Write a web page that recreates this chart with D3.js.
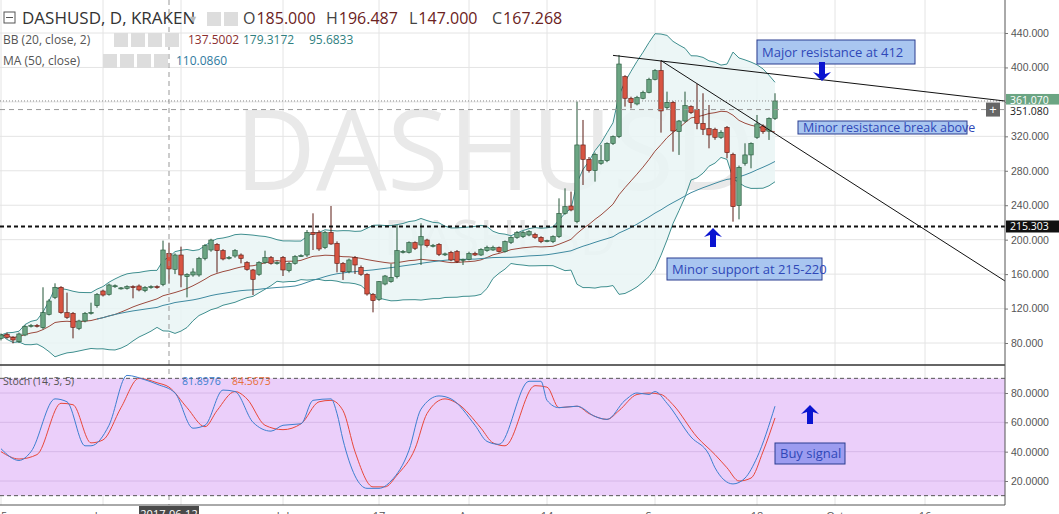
<!DOCTYPE html>
<html><head><meta charset="utf-8">
<script src="https://cdn.jsdelivr.net/npm/d3@7"></script>
<style>body{margin:0;background:#fff;overflow:hidden}svg{display:block;font-family:"Open Sans","DejaVu Sans",sans-serif}</style>
</head><body><div id="chart"></div>
<script>
// daily candles [open, high, low, close], May 15 .. Sep 21 2017
const candles = [
 [85.4,91,83,89.3],[90,92,85,86.6],[86.6,88,79.6,83.5],[81.5,92,80,90.5],[89.3,101,88,99],
 [100,102,98,100.5],[100.5,102,98,100],[97.8,144.7,96,115.2],[113.3,131,112,128.8],[133,149.3,131,144.7],
 [144.7,146,114,115.2],[115.2,138.5,108,109.8],[114.5,116,85.4,98.2],[97,107,95,105.6],[105.6,116,104,114.5],
 [114.8,126.8,113,115.6],[123.4,138,121,136.5],[140.4,142,134,135.7],[136.5,149,135,147.4],[146.2,148,144,146.5],
 [143.5,145,142,144],[143.5,147,142,145.4],[145.4,147,131.9,145],[146.2,148,140,141.6],[140.8,146,139,144.7],
 [145,147,143,145.4],[145.4,147,143,145],[148.1,198.9,146,188],[184.1,196.5,149.3,166],[165.6,184,160,182.2],
 [182.2,191.9,144.7,159],[157,161,133,159.8],[159,166.7,157,162.5],[159,180,157,178.3],[178.3,195,176,193],
 [188,201,186,199.6],[194.6,196,161.7,187.2],[187.2,189,176,177.6],[178.6,181,177,179.5],[181,189,179,187.2],
 [182.2,184,172.5,178.3],[173.3,175,164,165.6],[164.8,166,135.7,153.9],[159.8,175,158,173.7],[173.3,187.2,172,179.1],
 [179.1,181,171,172.5],[172.5,175,171,173.3],[179.5,181,157.8,164.8],[164,174,162,172.5],[172.5,182,171,180.3],
 [181,183,180,181.4],[182.2,211.2,180,208.5],[208.5,230.6,188,206.2],[208.5,211,187,189.2],[190.7,210,189,208.5],
 [208.5,239.1,194,195],[195.8,198,162,172.5],[172.5,174,153.2,162.8],[162.8,178,161,176.4],[179.1,181,160.1,170.6],
 [167.9,170,158,159.8],[159.8,161,135,136.9],[136.5,138,115.6,129.2],[130.7,152,129,151.2],[148.5,159,147,157.8],
 [151.2,171.8,150,156.3],[157,217,155,187.2],[186.1,188,184,186.5],[185.3,198,184,196.5],[196.5,198,188,190],
 [193.8,219,170.6,203.5],[199.6,201,191,193],[193,195,191,193.5],[194.6,196,181,183],[183,185,181,183.5],
 [185.3,187,175,176.4],[186.1,188,173,174.5],[176.4,178,170.6,177.2],[177.2,186,176,184.1],[184.1,186,181,182.2],
 [182.2,190,181,188.8],[187.2,193,186,191.1],[188,193,187,191.1],[190.7,192,185,186.1],[186.1,199,185,197.7],
 [196.9,204,195,202.7],[202.7,210,201,208.1],[203.5,210,202,208.1],[205.4,211,204,209.3],[206,208,201,202.7],
 [202.7,204,196,197.7],[198.5,200,197,198.9],[197.7,205,196,203.5],[203.5,248,202,230.6],[230.6,259.6,229,238.3],
 [239.1,255.8,233,234.5],[220.9,360.3,219,310],[310,339,263.5,293.3],[293.3,296,278,280.2],[280.2,301,267.4,299.1],
 [288.7,310,287,291.8],[291.8,313,290,311.9],[311.9,321,310,319.6],[319.6,414.5,318,404],[389.3,391,354.5,364.2],
 [364.2,366,352.5,359.1],[357.6,367,356,365.3],[364.2,373,363,371.1],[371.1,388,370,386.2],[386.2,398,385,396.3],
 [396.3,407.9,324.3,349.5],[353.3,371.9,351,359.5],[359.5,361,302.2,326.2],[325.4,339,298.4,337.8],[337.8,371.9,336,355.6],
 [354.5,356,346,347.5],[351.4,380.8,328.2,335.1],[335.1,370,321.6,328.2],[328.9,356.4,306.1,321.6],[328.2,330,316,318.9],
 [318.9,327,317,324.7],[330.5,332,294.5,301.1],[299.1,301,220.9,238.3],[239.5,286,223.6,284],[288.7,311.9,286,298.4],
 [298.4,313,282.9,311.9],[318.9,344.8,317,334.4],[332,334,323,325.4],[326,342,315.8,340.9],[340.9,370,339,361.07]
];
// stochastic lines, [candle index, value]
const stochK = [[0,42],[3,34],[5,40],[9,76],[11,74],[14,44],[15,44],[18,58],[21,92],[24,89],[26,86],[29,80],[32,56],[34,58],[37,82],[39,81],[42,60],[45,54],[47,58],[50,59],[52,75],[55,76],[56,66],[57,48],[61,15],[63,15],[65,20],[68,41],[70,69],[73,78],[75,76],[79,58],[81,47],[83,45],[88,88],[90,88],[91,75],[93,70],[96,71],[99,64],[101,62],[104,75],[106,80],[108,79],[109,81],[111,73],[115,50],[118,38],[119,29],[122,18],[124,22],[126,36],[129,71]];
const stochD = [[0,40],[3,35],[6,38],[10,73],[12,72],[15,46],[17,48],[20,70],[23,90],[26,87],[28,84],[31,70],[34,57],[36,68],[39,81],[41,76],[44,58],[47,55],[50,59],[53,74],[55,75],[57,68],[59,40],[62,16],[64,16],[66,24],[69,42],[71,66],[74,76],[76,73],[80,56],[82,46],[84,44],[89,85],[91,84],[93,70],[96,71],[98,66],[101,62],[103,68],[106,79],[108,80],[110,79],[112,72],[116,50],[119,38],[121,29],[123,20],[125,22],[127,40],[129,63]];
const priceTicks = [80,120,160,200,240,280,320,360,400,440];
const stochTicks = [20,40,60,80];
const timeTicks = [["2017-05-15","15"],["2017-06-01","Jun"],["2017-06-14",""],["2017-07-01","Jul"],["2017-07-17","17"],["2017-08-01","Aug"],["2017-08-14","14"],["2017-09-01","Sep"],["2017-09-18","18"],["2017-10-01","Oct"],["2017-10-16","16"]];
const ohlc = [["O", "185.000"], ["H", "196.487"], ["L", "147.000"], ["C", "167.268"]];
const startDate = new Date(2017,4,15);
const day = 864e5;

const W = 1059, H = 514, axisX = 1005;
const svg = d3.select("#chart").append("svg").attr("width", W).attr("height", H);

const x = d3.scaleTime().domain([startDate, new Date(2017,8,21)]).range([1, 775]);
const xi = i => x(new Date(startDate.getTime() + i*day));
const y = d3.scaleLinear().domain([80, 440]).range([343, 33]);
const ys = d3.scaleLinear().domain([20, 80]).range([481, 393]);
const parse = d3.timeParse("%Y-%m-%d");

// grid
const grid = svg.append("g").attr("stroke", "#e4e4e4");
grid.selectAll(".v").data(timeTicks).enter().append("line")
  .attr("x1", d => x(parse(d[0]))).attr("x2", d => x(parse(d[0])))
  .attr("y1", 0).attr("y2", 505);
grid.selectAll(".h").data(priceTicks).enter().append("line")
  .attr("x1", 0).attr("x2", axisX).attr("y1", d => y(d)).attr("y2", d => y(d));

// watermark
svg.append("text").attr("x", 495).attr("y", 190).attr("text-anchor", "middle")
  .attr("font-size", 112).attr("fill", "#e9e9e9").text("DASHUSD");
svg.append("text").attr("x", 500).attr("y", 255).attr("text-anchor", "middle")
  .attr("font-size", 50).attr("fill", "#e6e6e6").text("DASHUSD");

// indicators
const closes = candles.map(c => c[3]);
const bb = closes.map((c, i) => {
  const w = closes.slice(Math.max(0, i-19), i+1);
  const m = d3.mean(w), s = d3.deviation(w) || 0;
  return {i, m, u: m + 2*s, l: m - 2*s};
});
const ma50 = closes.map((c, i) => ({i, v: d3.mean(closes.slice(Math.max(0, i-49), i+1))})).slice(16);

svg.append("path").datum(bb).attr("fill", "#e9f5f5").attr("opacity", 0.85)
  .attr("d", d3.area().x(d => xi(d.i)).y0(d => y(d.l)).y1(d => y(d.u)));
svg.append("path").datum(bb).attr("fill", "none").attr("stroke", "#3f8f8f")
  .attr("d", d3.line().x(d => xi(d.i)).y(d => y(d.u)));
svg.append("path").datum(bb).attr("fill", "none").attr("stroke", "#3f8f8f")
  .attr("d", d3.line().x(d => xi(d.i)).y(d => y(d.l)));
svg.append("path").datum(bb).attr("fill", "none").attr("stroke", "#9b4a3e")
  .attr("d", d3.line().x(d => xi(d.i)).y(d => y(d.m)));
svg.append("path").datum(ma50).attr("fill", "none").attr("stroke", "#3f8aa0")
  .attr("d", d3.line().x(d => xi(d.i)).y(d => y(d.v)));

// candles
const cg = svg.append("g").selectAll("g").data(candles).enter().append("g");
cg.append("line").attr("x1", (d, i) => xi(i)).attr("x2", (d, i) => xi(i))
  .attr("y1", d => y(d[1])).attr("y2", d => y(d[2]))
  .attr("stroke", d => d[3] >= d[0] ? "#225437" : "#5b1a13");
cg.append("rect").attr("x", (d, i) => xi(i) - 2.2).attr("width", 4.4)
  .attr("y", d => y(Math.max(d[0], d[3])))
  .attr("height", d => Math.max(1, Math.abs(y(d[0]) - y(d[3]))))
  .attr("fill", d => d[3] >= d[0] ? "#6ba583" : "#d75442")
  .attr("stroke", d => d[3] >= d[0] ? "#225437" : "#5b1a13").attr("stroke-width", 0.6);

// level lines
svg.append("line").attr("x1", 0).attr("x2", axisX).attr("y1", y(215.303)).attr("y2", y(215.303))
  .attr("stroke", "#111").attr("stroke-width", 2).attr("stroke-dasharray", "4,3");
svg.append("line").attr("x1", 0).attr("x2", axisX).attr("y1", y(361.07)).attr("y2", y(361.07))
  .attr("stroke", "#888").attr("stroke-dasharray", "1,2");
svg.append("line").attr("x1", 0).attr("x2", axisX).attr("y1", y(351.08)).attr("y2", y(351.08))
  .attr("stroke", "#999").attr("stroke-dasharray", "5,4");
// crosshair
svg.append("line").attr("x1", xi(28)).attr("x2", xi(28)).attr("y1", 0).attr("y2", 505)
  .attr("stroke", "#999").attr("stroke-dasharray", "5,4");

// trend lines
svg.append("line").attr("x1", xi(102)).attr("y1", y(414)).attr("x2", axisX).attr("y2", y(361))
  .attr("stroke", "#111");
svg.append("line").attr("x1", xi(110)).attr("y1", y(408)).attr("x2", axisX).attr("y2", y(152))
  .attr("stroke", "#111");

// annotations
function note(x0, y0, w, h, txt, fill, size) {
  svg.append("rect").attr("x", x0).attr("y", y0).attr("width", w).attr("height", h)
    .attr("fill", fill).attr("stroke", "#2a3c8f");
  svg.append("text").attr("x", x0 + 5).attr("y", y0 + h/2 + 4.5).attr("font-size", size)
    .attr("fill", "#2f48b8").text(txt);
}
function arrow(cx, tip, dir) {
  const s = dir;
  svg.append("path").attr("fill", "#0a14d0")
    .attr("d", `M${cx},${tip} L${cx-9},${tip + s*9} L${cx-3},${tip + s*7} L${cx-3},${tip + s*19} L${cx+3},${tip + s*19} L${cx+3},${tip + s*7} L${cx+9},${tip + s*9} Z`);
}
note(757, 40, 158, 24, "Major resistance at 412", "#a9c6f0", 13);
arrow(822, 81, -1);
note(798, 121, 169, 13, "Minor resistance break above", "#a9c6f0", 12.5);
note(667, 258, 155, 22, "Minor support at 215-220", "#a9c6f0", 13);
arrow(713, 228, 1);

// stoch pane
svg.append("line").attr("x1", 0).attr("x2", axisX).attr("y1", 365).attr("y2", 365).attr("stroke", "#333").attr("stroke-width", 1.5);
svg.append("rect").attr("x", 0).attr("y", ys(90)).attr("width", axisX).attr("height", ys(10) - ys(90)).attr("fill", "#ebcffa");
svg.append("g").attr("stroke", "#d6b8e8").selectAll("line").data(stochTicks).enter().append("line")
  .attr("x1", 0).attr("x2", axisX).attr("y1", d => ys(d)).attr("y2", d => ys(d));
[90, 10].forEach(v => svg.append("line").attr("x1", 0).attr("x2", axisX).attr("y1", ys(v)).attr("y2", ys(v))
  .attr("stroke", "#555").attr("stroke-dasharray", "4,3"));
const sl = d3.line().x(d => xi(d[0])).y(d => ys(d[1])).curve(d3.curveMonotoneX);
svg.append("path").datum(stochD).attr("fill", "none").attr("stroke", "#e8483a").attr("d", sl);
svg.append("path").datum(stochK).attr("fill", "none").attr("stroke", "#3d7fd0").attr("d", sl);
note(775, 443, 70, 21, "Buy signal", "#9c9cf0", 13);
arrow(810, 405, 1);
svg.append("text").attr("x", 3).attr("y", 385).attr("font-size", 10.5).attr("fill", "#555").text("Stoch (14, 3, 5)");
svg.append("text").attr("x", 182).attr("y", 385).attr("font-size", 10.5).attr("fill", "#3d7fd0").text("81.8976");
svg.append("text").attr("x", 232).attr("y", 385).attr("font-size", 10.5).attr("fill", "#e8703a").text("84.5673");

// right axes
svg.append("line").attr("x1", axisX).attr("x2", axisX).attr("y1", 0).attr("y2", 505).attr("stroke", "#555");
svg.append("line").attr("x1", 0).attr("x2", axisX).attr("y1", 505).attr("y2", 505).attr("stroke", "#555");
const ay = svg.append("g").attr("transform", `translate(${axisX},0)`)
  .call(d3.axisRight(y).tickValues(priceTicks).tickSize(3).tickFormat(d3.format(".3f")));
const as = svg.append("g").attr("transform", `translate(${axisX},0)`)
  .call(d3.axisRight(ys).tickValues(stochTicks).tickSize(3).tickFormat(d3.format(".4f")));
[ay, as].forEach(a => { a.select(".domain").remove(); a.selectAll("text").attr("font-size", 10.5).attr("fill", "#555"); a.selectAll("line").attr("stroke", "#777"); });

// price labels on axis
function tag(v, bg, fg, txt, dy) {
  svg.append("rect").attr("x", axisX + 1).attr("y", y(v) - 6 + dy).attr("width", 53).attr("height", 12).attr("fill", bg);
  svg.append("text").attr("x", axisX + 5).attr("y", y(v) + 4 + dy).attr("font-size", 10.5).attr("fill", fg).text(txt);
}
tag(361.07, "#6ba583", "#fff", "361.070", -1);
tag(351.08, "#fff", "#222", "351.080", 1);
tag(215.303, "#111", "#fff", "215.303", 0);
svg.append("rect").attr("x", 986).attr("y", y(351.08) - 7).attr("width", 14).attr("height", 14).attr("fill", "#666");
svg.append("text").attr("x", 993).attr("y", y(351.08) + 4.5).attr("text-anchor", "middle").attr("font-size", 13).attr("fill", "#fff").text("+");

// time axis
svg.append("g").selectAll("text").data(timeTicks).enter().append("text")
  .attr("x", d => x(parse(d[0]))).attr("y", 520).attr("text-anchor", "middle")
  .attr("font-size", 11).attr("fill", "#555").text(d => d[1]);
svg.append("rect").attr("x", xi(28) - 30).attr("y", 506).attr("width", 60).attr("height", 10).attr("fill", "#4a4a4a");
svg.append("text").attr("x", xi(28)).attr("y", 518).attr("text-anchor", "middle").attr("font-size", 11).attr("fill", "#fff").text("2017-06-12");

// header
svg.append("rect").attr("x", 4).attr("y", 12).attr("width", 11).attr("height", 11).attr("fill", "none").attr("stroke", "#555");
svg.append("line").attr("x1", 6).attr("x2", 13).attr("y1", 17.5).attr("y2", 17.5).attr("stroke", "#555");
svg.append("text").attr("x", 22).attr("y", 24).attr("font-size", 17).attr("fill", "#333").text("DASHUSD, D, KRAKEN");
svg.append("text").attr("x", 190).attr("y", 22).attr("font-size", 8).attr("fill", "#bbb").text("▼");
[[207, 12], [224, 12], [114, 33], [131, 33], [148, 33], [165, 33], [103, 54], [120, 54], [137, 54], [154, 54]]
  .forEach(p => svg.append("rect").attr("x", p[0]).attr("y", p[1]).attr("width", 14).attr("height", 14).attr("fill", "#ddd"));
ohlc.forEach((p, k) => {
  const t = svg.append("text").attr("x", 243 + k*83).attr("y", 24).attr("font-size", 16).attr("fill", "#444");
  t.append("tspan").text(p[0]);
  t.append("tspan").attr("dx", 1).attr("fill", "#6b2222").text(p[1]);
});
svg.append("text").attr("x", 3).attr("y", 44).attr("font-size", 12).attr("fill", "#555").text("BB (20, close, 2)");
svg.append("text").attr("x", 188).attr("y", 44).attr("font-size", 12).attr("fill", "#8b2f2f").text("137.5002");
svg.append("text").attr("x", 243).attr("y", 44).attr("font-size", 12).attr("fill", "#2f8080").text("179.3172");
svg.append("text").attr("x", 309).attr("y", 44).attr("font-size", 12).attr("fill", "#2f8080").text("95.6833");
svg.append("text").attr("x", 3).attr("y", 65).attr("font-size", 12).attr("fill", "#555").text("MA (50, close)");
svg.append("text").attr("x", 176).attr("y", 65).attr("font-size", 12).attr("fill", "#2f7aa0").text("110.0860");
</script></body></html>
